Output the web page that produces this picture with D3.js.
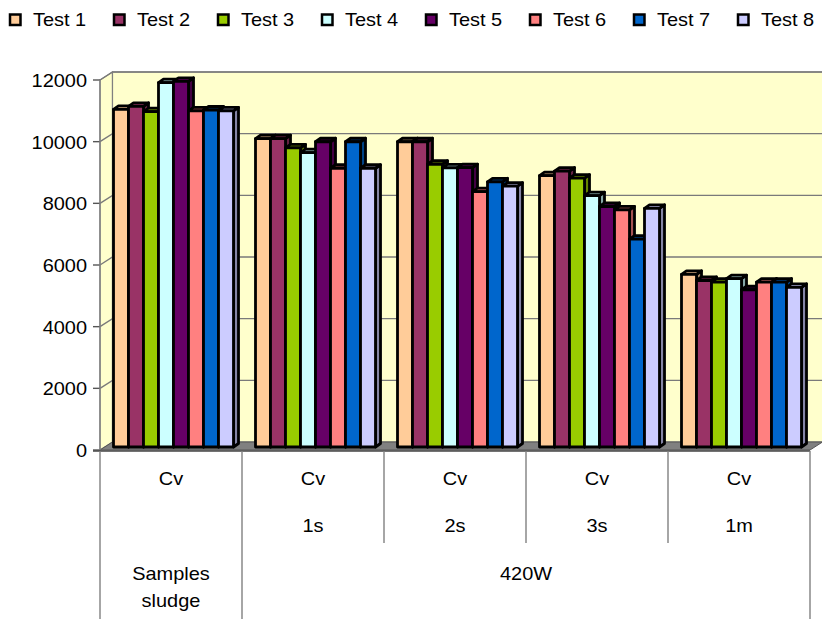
<!DOCTYPE html>
<html>
<head>
<meta charset="utf-8">
<script src="https://cdn.jsdelivr.net/npm/d3@7"></script>
<style>
  html, body { margin: 0; padding: 0; background: #ffffff; }
  svg { display: block; }
  text { font-family: "Liberation Sans", Arial, sans-serif; font-size: 19px; fill: #000; }
</style>
</head>
<body>
<svg id="chart" width="822" height="619"></svg>
<script>
// Category groups along the x axis
const groups = ["Samples sludge", "1s", "2s", "3s", "1m"];
const rowOne = ["Cv", "Cv", "Cv", "Cv", "Cv"];
const rowTwo = ["", "1s", "2s", "3s", "1m"];
const series = ["Test 1", "Test 2", "Test 3", "Test 4", "Test 5", "Test 6", "Test 7", "Test 8"];
const colors = ["#FFCC99", "#993366", "#99CC00", "#CCFFFF", "#660066", "#FF8080", "#0066CC", "#CCCCFF"];

// Values per test, one entry per group
const test1 = [10950, 10000, 9900, 8800, 5600];
const test2 = [11050, 10000, 9900, 8950, 5400];
const test3 = [10880, 9700, 9170, 8720, 5350];
const test4 = [11820, 9550, 9050, 8150, 5460];
const test5 = [11860, 9900, 9060, 7800, 5100];
const test6 = [10900, 9040, 8280, 7690, 5350];
const test7 = [10930, 9900, 8600, 6740, 5350];
const test8 = [10900, 9040, 8460, 7740, 5180];
const allTests = [test1, test2, test3, test4, test5, test6, test7, test8];

const yTicks = [0, 2000, 4000, 6000, 8000, 10000, 12000];

const svg = d3.select("#chart");

// Front-plane scales
const y = d3.scaleLinear().domain([0, 12000]).range([450, 80]);
const x = d3.scaleBand().domain(groups).range([100, 810]).padding(0);
const xs = d3.scaleBand().domain(series).range([13.5, 133.5]).padding(0);

// Depth of the wall/floor and of each bar
const wallDX = 12.5, wallDY = -8;
const barDX = 5, barDY = -3.5;
const barShiftY = -3;

// Side wall
svg.append("path")
  .attr("d", `M100,${y(0)} L100,${y(12000)} L${100 + wallDX},${y(12000) + wallDY} L${100 + wallDX},${y(0) + wallDY} Z`)
  .attr("fill", "#FFFFCC").attr("stroke", "#808080").attr("stroke-width", 1.2);

// Back wall
svg.append("rect")
  .attr("x", 100 + wallDX).attr("y", y(12000) + wallDY)
  .attr("width", 822 - (100 + wallDX) + 2).attr("height", y(0) - y(12000))
  .attr("fill", "#FFFFCC").attr("stroke", "#808080").attr("stroke-width", 1.2);

// Gridlines: diagonal on the side wall, horizontal across the back wall
const grid = svg.append("g").attr("stroke", "#7a7a7a").attr("stroke-width", 1.4).attr("fill", "none");
yTicks.filter(t => t > 0).forEach(t => {
  grid.append("path")
    .attr("d", `M100,${y(t)} L${100 + wallDX},${y(t) + wallDY} L824,${y(t) + wallDY}`);
});

// Floor
svg.append("path")
  .attr("d", `M100,${y(0)} L810,${y(0)} L${810 + wallDX},${y(0) + wallDY} L${100 + wallDX},${y(0) + wallDY} Z`)
  .attr("fill", "#808080").attr("stroke", "#555").attr("stroke-width", 1);

// Bars, drawn left to right so each bar hides the side of the one before
const bars = svg.append("g").attr("stroke", "#000").attr("stroke-width", 2.8).attr("stroke-linejoin", "round");
groups.forEach((g, gi) => {
  series.forEach((s, si) => {
    const v = allTests[si][gi];
    const x0 = x(g) + xs(s);
    const w = xs.bandwidth();
    const base = y(0) + barShiftY;
    const top = y(v) + barShiftY;
    const c = d3.color(colors[si]);
    // side face
    bars.append("path")
      .attr("d", `M${x0 + w},${top} L${x0 + w + barDX},${top + barDY} L${x0 + w + barDX},${base + barDY} L${x0 + w},${base} Z`)
      .attr("fill", c.darker(1.2));
    // top face
    bars.append("path")
      .attr("d", `M${x0},${top} L${x0 + barDX},${top + barDY} L${x0 + w + barDX},${top + barDY} L${x0 + w},${top} Z`)
      .attr("fill", c.darker(0.6));
    // front face
    bars.append("rect")
      .attr("x", x0).attr("y", top).attr("width", w).attr("height", base - top)
      .attr("fill", colors[si]);
  });
});

// Value axis ticks and labels
const axis = svg.append("g");
yTicks.forEach(t => {
  axis.append("line").attr("x1", 93).attr("x2", 100).attr("y1", y(t)).attr("y2", y(t))
    .attr("stroke", "#555").attr("stroke-width", 1.4);
  axis.append("text")
    .attr("transform", `translate(87,${y(t) + 7}) scale(1.05,1)`)
    .attr("text-anchor", "end").text(t);
});
axis.append("line").attr("x1", 100).attr("x2", 100).attr("y1", y(12000)).attr("y2", y(0))
  .attr("stroke", "#808080").attr("stroke-width", 1.4);

// Category table beneath the floor
const table = svg.append("g").attr("stroke", "#808080").attr("stroke-width", 1.4);
table.append("line").attr("x1", 93).attr("x2", 810).attr("y1", 451).attr("y2", 451).attr("stroke", "#444");
table.append("line").attr("x1", 100).attr("x2", 100).attr("y1", 451).attr("y2", 619);
table.append("line").attr("x1", x("1s")).attr("x2", x("1s")).attr("y1", 451).attr("y2", 619);
["2s", "3s", "1m"].forEach(g => {
  table.append("line").attr("x1", x(g)).attr("x2", x(g)).attr("y1", 451).attr("y2", 543);
});
table.append("line").attr("x1", 810).attr("x2", 810).attr("y1", 451).attr("y2", 619);

const labels = svg.append("g");
groups.forEach((g, gi) => {
  const cx = x(g) + x.bandwidth() / 2;
  labels.append("text").attr("transform", `translate(${cx},485) scale(1.05,1)`)
    .attr("text-anchor", "middle").text(rowOne[gi]);
  if (rowTwo[gi]) {
    labels.append("text").attr("transform", `translate(${cx},532) scale(1.05,1)`)
      .attr("text-anchor", "middle").text(rowTwo[gi]);
  }
});
const c0 = x(groups[0]) + x.bandwidth() / 2;
labels.append("text").attr("transform", `translate(${c0},580) scale(1.05,1)`)
  .attr("text-anchor", "middle").text("Samples");
labels.append("text").attr("transform", `translate(${c0},607) scale(1.05,1)`)
  .attr("text-anchor", "middle").text("sludge");
labels.append("text").attr("transform", `translate(${(x("1s") + 810) / 2},580) scale(1.05,1)`)
  .attr("text-anchor", "middle").text("420W");

// Legend across the top
const legendX = d3.scalePoint().domain(series).range([10, 738]);
const legend = svg.append("g");
series.forEach((s, i) => {
  const lx = legendX(s);
  legend.append("rect").attr("x", lx).attr("y", 14.5).attr("width", 10.5).attr("height", 10.5)
    .attr("fill", colors[i]).attr("stroke", "#000").attr("stroke-width", 2.5);
  legend.append("text").attr("transform", `translate(${lx + 23},25.5) scale(1.05,1)`).text(s);
});
</script>
</body>
</html>
